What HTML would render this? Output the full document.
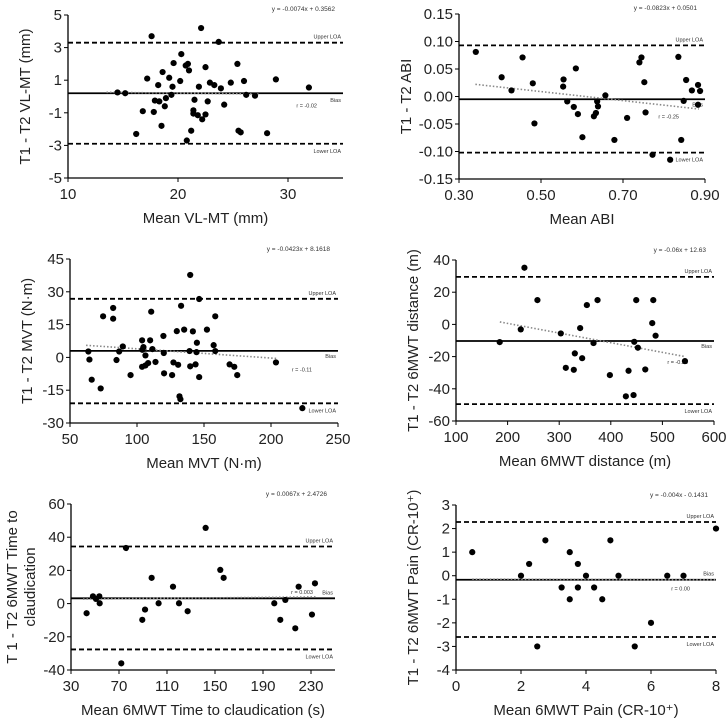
<!DOCTYPE html>
<html><head><meta charset="utf-8">
<style>
html,body{margin:0;padding:0;background:#fff;}
svg{display:block;font-family:"Liberation Sans",sans-serif;}
</style></head>
<body>
<svg id="chart" width="727" height="723" viewBox="0 0 727 723"></svg>
<script>
// ---- Panel 1: VL-MT ----
const p1X=[14.5,15.2,17.6,16.2,16.8,17.2,17.8,17.9,18.2,18.3,18.5,18.6,18.8,18.9,19.2,19.4,19.5,19.6,20.2,20.3,20.7,20.9,21.0,20.8,21.2,21.4,21.5,21.4,21.8,21.9,22.1,22.2,22.5,22.5,22.7,22.9,23.3,23.7,23.9,24.2,24.8,25.4,25.5,25.7,26.0,26.2,27.0,28.1,28.9,31.9];
const p1Y=[0.25,0.2,3.7,-2.3,-0.9,1.1,-0.95,-0.25,0.7,-0.3,-1.8,1.5,-0.6,-0.1,1.15,0.1,0.6,2.05,0.95,2.6,1.9,2.0,1.6,-2.7,-2.1,-0.85,-0.2,-1.05,-1.15,0.6,4.2,-1.4,-1.1,1.8,-0.3,0.85,0.7,3.35,0.5,-0.5,0.85,2.0,-2.1,-2.2,0.95,0.1,0.05,-2.25,1.05,0.55];
const p1XTicks=[10,20,30];
const p1YTicks=[-5,-3,-1,1,3,5];
const p1Lines=[0.2,3.3,-2.9]; // bias, upper, lower
const p1Trend=[-0.0074,0.3562];
// ---- Panel 2: ABI ----
const p2X=[0.341,0.404,0.428,0.455,0.48,0.484,0.555,0.554,0.564,0.58,0.585,0.59,0.601,0.629,0.634,0.637,0.639,0.657,0.679,0.71,0.74,0.745,0.752,0.755,0.772,0.815,0.835,0.842,0.848,0.854,0.868,0.883,0.888,0.883];
const p2Y=[0.081,0.035,0.011,0.071,0.024,-0.049,0.031,0.018,-0.009,-0.019,0.051,-0.032,-0.074,-0.036,-0.030,-0.009,-0.018,0.002,-0.079,-0.039,0.062,0.071,0.026,-0.029,-0.106,-0.115,0.072,-0.079,-0.008,0.030,0.011,0.021,0.010,-0.015];
const p2XTicks=[0.30,0.50,0.70,0.90];
const p2YTicks=[-0.15,-0.10,-0.05,0.00,0.05,0.10,0.15];
const p2Lines=[-0.005,0.093,-0.102];
const p2Trend=[-0.0823,0.0501];
// ---- Panel 3: MVT ----
const p3X=[63.7,64.5,66.2,72.9,74.7,82.2,82.2,84.7,86.7,89.4,95.2,104,103.8,104.8,103.8,106.3,106.3,108.3,109.8,110.6,111.5,113.8,119.7,120,120.2,127.2,126.2,129.7,130.7,131.7,132.4,132.9,135.2,139.2,139.7,139.7,141.7,143.7,144.4,144.7,146.4,146.4,152.2,157.2,158.4,158.4,169.1,172.6,174.8,203.7,223.4];
const p3Y=[2.7,-1,-10.2,-14.2,18.8,22.6,17.7,-1.2,2.7,5,-8.1,3.5,7.8,4.7,-4.3,0.9,-3.7,-2.6,7.8,20.9,3.8,-2.1,9.8,2,-7.3,-2.3,-8.1,12,-3.4,-17.8,-19.1,23.6,12.7,2.9,37.7,-4.1,11.9,-3.2,2.4,6.7,26.7,-9,12.7,5.6,18.8,2.9,-3.2,-4.3,-8.1,-2.3,-23.2];
const p3XTicks=[50,100,150,200,250];
const p3YTicks=[-30,-15,0,15,30,45];
const p3Lines=[3,26.8,-21];
const p3Trend=[-0.0423,8.1618];
// ---- Panel 4: 6MWT distance ----
const p4X=[184.7,225.5,232.6,257.8,303.1,312.8,328.3,330.3,344.5,340.6,353.6,366.5,374.3,398.2,429.2,434.4,444.1,445.4,452.5,449.3,466.8,480.3,482.3,486.8,543.7];
const p4Y=[-11,-3.1,35.2,15.1,-5.6,-27,-28.2,-18,-21,-2.3,12,-11.6,15.1,-31.5,-44.7,-28.8,-43.9,-10.8,-14.5,15.1,-28,0.8,15.1,-7,-22.8];
const p4XTicks=[100,200,300,400,500,600];
const p4YTicks=[-60,-40,-20,0,20,40];
const p4Lines=[-10.3,29.5,-49.5];
const p4Trend=[-0.06,12.63];
// ---- Panel 5: Time to claudication ----
const p5X=[43,48.3,50.8,53.6,53.9,75.8,71.9,89.4,91.7,97.2,103,115,120,127.2,142.2,154.4,157.2,199.4,204.4,208.6,216.9,219.7,230.8,233.3];
const p5Y=[-5.8,4.4,2.8,4.4,0.2,33.5,-36,-9.8,-3.6,15.5,0.2,10.2,0.2,-4.6,45.6,20.3,15.5,0.2,-9.8,2.2,-14.9,10.2,-6.6,12.2];
const p5XTicks=[30,70,110,150,190,230];
const p5YTicks=[-40,-20,0,20,40,60];
const p5Lines=[3.2,34.4,-27.6];
const p5Trend=[0.0067,2.4726];
// ---- Panel 6: Pain ----
const p6X=[0.5,2,2.25,2.5,2.75,3.25,3.5,3.5,3.75,3.75,4,4.25,4.5,4.75,5,5.5,6,6.5,7,8];
const p6Y=[1,0,0.5,-3,1.5,-0.5,1,-1,0.5,-0.5,0,-0.5,-1,1.5,0,-3,-2,0,0,2];
const p6XTicks=[0,2,4,6,8];
const p6YTicks=[-4,-3,-2,-1,0,1,2,3];
const p6Lines=[-0.17,2.28,-2.6];
const p6Trend=[-0.004,-0.1431];

const NS="http://www.w3.org/2000/svg";
const svg=document.getElementById('chart');
function mk(tag,attrs,parent,text){const e=document.createElementNS(NS,tag);for(const k in attrs)e.setAttribute(k,attrs[k]);if(text!==undefined)e.textContent=text;parent.appendChild(e);return e;}

const panels=[
 {id:'vlmt',X:p1X,Y:p1Y,xt:p1XTicks,yt:p1YTicks,ln:p1Lines,tr:p1Trend,xd:[10,35],yd:[-5,5],box:[68,343,15,178],dec:0,ydec:0,
  xtitle:'Mean VL-MT (mm)',ytitle:['T1 - T2 VL-MT (mm)'],eq:'y = -0.0074x + 0.3562',r:'r = -0.02',rx:[13.5,27.5],biasBelow:true,ry:-0.55},
 {id:'abi',X:p2X,Y:p2Y,xt:p2XTicks,yt:p2YTicks,ln:p2Lines,tr:p2Trend,xd:[0.3,0.9],yd:[-0.15,0.15],box:[459,705,14,179],dec:2,ydec:2,
  xtitle:'Mean ABI',ytitle:['T1 - T2 ABI'],eq:'y = -0.0823x + 0.0501',r:'r = -0.25',rx:[0.34,0.885],ry:-0.036},
 {id:'mvt',X:p3X,Y:p3Y,xt:p3XTicks,yt:p3YTicks,ln:p3Lines,tr:p3Trend,xd:[50,250],yd:[-30,45],box:[70,338,259,423],dec:0,ydec:0,
  xtitle:'Mean MVT (N\u00b7m)',ytitle:['T1 - T2 MVT (N\u00b7m)'],eq:'y = -0.0423x + 8.1618',r:'r = -0.11',rx:[62,205],ry:-5.5},
 {id:'distance',X:p4X,Y:p4Y,xt:p4XTicks,yt:p4YTicks,ln:p4Lines,tr:p4Trend,xd:[100,600],yd:[-60,40],box:[456,714,260,421],dec:0,ydec:0,
  xtitle:'Mean 6MWT distance (m)',ytitle:['T1 - T2 6MWT distance (m)'],eq:'y = -0.06x + 12.63',r:'r = -0.28',rx:[185,544],ry:-23.5},
 {id:'claudication',X:p5X,Y:p5Y,xt:p5XTicks,yt:p5YTicks,ln:p5Lines,tr:p5Trend,xd:[30,250],yd:[-40,60],box:[71,335,504,670],dec:0,ydec:0,
  xtitle:'Mean 6MWT Time to claudication (s)',ytitle:['T 1 - T2 6MWT Time to','claudication'],eq:'y = 0.0067x + 2.4726',r:'r = 0.003',rx:[40,235],ry:7,rAbove:true},
 {id:'pain',X:p6X,Y:p6Y,xt:p6XTicks,yt:p6YTicks,ln:p6Lines,tr:p6Trend,xd:[0,8],yd:[-4,3],box:[456,716,505,670],dec:0,ydec:0,
  xtitle:'Mean 6MWT Pain (CR-10\u207a)',ytitle:['T1 - T2 6MWT Pain (CR-10\u207a)'],eq:'y = -0.004x - 0.1431',r:'r = 0.00',rx:[0.5,8],ry:-0.55,biasAbove:true}
];

panels.forEach(p=>{
  const [L,R,T,B]=p.box;
  const sx=v=>L+(v-p.xd[0])/(p.xd[1]-p.xd[0])*(R-L);
  const sy=v=>B-(v-p.yd[0])/(p.yd[1]-p.yd[0])*(B-T);
  const g=mk('g',{},svg);
  
  
  const ya=mk('line',{x1:L,y1:T,x2:L,y2:B,stroke:'#000','stroke-width':1.3},g);
  
  
  const xa=mk('line',{x1:L,y1:B,x2:R,y2:B,stroke:'#000','stroke-width':1.3},g);
  
  
  p.yt.forEach(v=>{
    mk('line',{x1:L-4,y1:sy(v),x2:L,y2:sy(v),stroke:'#000','stroke-width':1},g);
    const t=mk('text',{x:L-6,y:sy(v)+5,'text-anchor':'end','font-size':15,fill:'#222'},g,v.toFixed(p.ydec));
    
    
  });
  p.xt.forEach(v=>{
    mk('line',{x1:sx(v),y1:B,x2:sx(v),y2:B+4,stroke:'#000','stroke-width':1},g);
    const t=mk('text',{x:sx(v),y:B+21,'text-anchor':'middle','font-size':15,fill:'#222'},g,v.toFixed(p.dec));
    
    
  });
  const xt=mk('text',{x:(L+R)/2,y:B+45,'text-anchor':'middle','font-size':15,fill:'#222'},g,p.xtitle);
  
  
  const ycx=L-(p.id==='abi'?48:38)- (p.ytitle.length>1?16:0);
  p.ytitle.forEach((s,i)=>{
    const yt=mk('text',{x:0,y:0,'text-anchor':'middle','font-size':15,fill:'#222',transform:`translate(${ycx+i*18},${(T+B)/2}) rotate(-90)`},g,s);
    
    
  });
  const bias=mk('line',{x1:L,y1:sy(p.ln[0]),x2:R,y2:sy(p.ln[0]),stroke:'#000','stroke-width':1.8},g);
  
  
  const up=mk('line',{x1:L,y1:sy(p.ln[1]),x2:R,y2:sy(p.ln[1]),stroke:'#000','stroke-width':1.8,'stroke-dasharray':'5,3'},g);
  
  
  const lo=mk('line',{x1:L,y1:sy(p.ln[2]),x2:R,y2:sy(p.ln[2]),stroke:'#000','stroke-width':1.8,'stroke-dasharray':'5,3'},g);
  
  
  const tr=mk('line',{x1:sx(p.rx[0]),y1:sy(p.tr[0]*p.rx[0]+p.tr[1]),x2:sx(p.rx[1]),y2:sy(p.tr[0]*p.rx[1]+p.tr[1]),stroke:'#888','stroke-width':1.6,'stroke-dasharray':'1.5,2'},g);
  
  
  const sm={'font-size':5.5,fill:'#333','text-anchor':'end'};
  const ul=mk('text',Object.assign({x:R-2,y:sy(p.ln[1])-4},sm),g,'Upper LOA');
  
  
  const ll=mk('text',Object.assign({x:R-2,y:sy(p.ln[2])+9},sm),g,'Lower LOA');
  
  
  const by=p.biasBelow?sy(p.ln[0])+9:(p.biasAbove?sy(p.ln[0])-4:sy(p.ln[0])+(p.rAbove?-4:7));
  const bl=mk('text',Object.assign({x:R-2,y:by},sm),g,'Bias');
  
  
  const rl=mk('text',Object.assign({x:p.rAbove?R-22:R-26,y:sy(p.ry)+2},sm),g,p.r);
  
  
  const eq=mk('text',{x:R-8,y:T-4+(p.id==='vlmt'||p.id==='abi'?0:-4),'font-size':6.5,fill:'#333','text-anchor':'end'},g,p.eq);
  
  
  p.X.forEach((x,i)=>{
    const c=mk('circle',{cx:sx(x),cy:sy(p.Y[i]),r:3.1,fill:'#000'},g);
    
    
  });
});
</script>
</body></html>
